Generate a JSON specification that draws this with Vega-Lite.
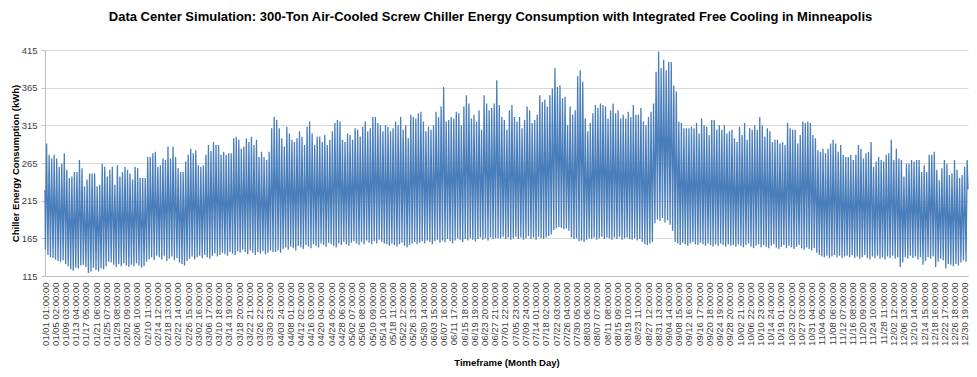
{
  "$schema": "https://vega.github.io/schema/vega-lite/v6.json",
  "width": 923,
  "height": 226,
  "autosize": {"type": "none"},
  "padding": {"left": 45, "top": 50, "right": 9, "bottom": 101},
  "background": "white",
  "title": {
    "text": "Data Center Simulation: 300-Ton Air-Cooled Screw Chiller Energy Consumption with Integrated Free Cooling in Minneapolis",
    "font": "Liberation Sans",
    "fontSize": 13,
    "fontWeight": "bold",
    "color": "#000000",
    "anchor": "middle",
    "frame": "group",
    "offset": 21,
    "dx": -16
  },
  "data": {
    "values": [
      {"h":0,"v":229},
      {"h":4,"v":150},{"h":15,"v":291},{"h":28,"v":143},{"h":39,"v":276},{"h":52,"v":140},{"h":63,"v":271},{"h":76,"v":139},{"h":87,"v":276},{"h":100,"v":137},{"h":111,"v":271},{"h":124,"v":135},{"h":135,"v":260},{"h":148,"v":134},{"h":159,"v":264},{"h":172,"v":136},{"h":183,"v":278},{"h":196,"v":131},{"h":207,"v":256},{"h":220,"v":128},{"h":231,"v":245},
      {"h":244,"v":124},{"h":255,"v":247},{"h":268,"v":122},{"h":279,"v":253},{"h":292,"v":126},{"h":303,"v":253},{"h":316,"v":125},{"h":327,"v":269},{"h":340,"v":129},{"h":351,"v":258},{"h":364,"v":130},{"h":375,"v":234},{"h":388,"v":127},{"h":399,"v":243},{"h":412,"v":119},{"h":423,"v":251},{"h":436,"v":121},{"h":447,"v":251},{"h":460,"v":126},{"h":471,"v":251},
      {"h":484,"v":123},{"h":495,"v":234},{"h":508,"v":121},{"h":519,"v":236},{"h":532,"v":125},{"h":543,"v":264},{"h":556,"v":124},{"h":567,"v":260},{"h":580,"v":128},{"h":591,"v":247},{"h":604,"v":134},{"h":615,"v":256},{"h":628,"v":133},{"h":639,"v":260},{"h":652,"v":130},{"h":663,"v":236},{"h":676,"v":127},{"h":687,"v":262},{"h":700,"v":131},{"h":711,"v":247},
      {"h":724,"v":128},{"h":735,"v":253},{"h":748,"v":132},{"h":759,"v":260},{"h":772,"v":129},{"h":783,"v":256},{"h":796,"v":127},{"h":807,"v":251},{"h":820,"v":130},{"h":831,"v":243},{"h":844,"v":128},{"h":855,"v":260},{"h":868,"v":132},{"h":879,"v":258},{"h":892,"v":129},{"h":903,"v":245},{"h":916,"v":126},{"h":927,"v":245},{"h":940,"v":128},{"h":951,"v":245},
      {"h":964,"v":134},{"h":975,"v":273},{"h":988,"v":137},{"h":999,"v":273},{"h":1012,"v":140},{"h":1023,"v":278},{"h":1036,"v":136},{"h":1047,"v":280},{"h":1060,"v":142},{"h":1071,"v":260},{"h":1084,"v":140},{"h":1095,"v":262},{"h":1108,"v":137},{"h":1119,"v":271},{"h":1132,"v":142},{"h":1143,"v":269},{"h":1156,"v":135},{"h":1167,"v":287},{"h":1180,"v":138},{"h":1191,"v":271},
      {"h":1204,"v":141},{"h":1215,"v":287},{"h":1228,"v":136},{"h":1239,"v":273},{"h":1252,"v":139},{"h":1263,"v":258},{"h":1276,"v":133},{"h":1287,"v":253},{"h":1300,"v":131},{"h":1311,"v":253},{"h":1324,"v":129},{"h":1335,"v":267},{"h":1348,"v":135},{"h":1359,"v":276},{"h":1372,"v":138},{"h":1383,"v":284},{"h":1396,"v":141},{"h":1407,"v":278},{"h":1420,"v":137},{"h":1431,"v":282},
      {"h":1444,"v":140},{"h":1455,"v":262},{"h":1468,"v":142},{"h":1479,"v":260},{"h":1492,"v":139},{"h":1503,"v":262},{"h":1516,"v":143},{"h":1527,"v":276},{"h":1540,"v":140},{"h":1551,"v":289},{"h":1564,"v":138},{"h":1575,"v":281},{"h":1588,"v":142},{"h":1599,"v":293},{"h":1612,"v":145},{"h":1623,"v":289},{"h":1636,"v":141},{"h":1647,"v":289},{"h":1660,"v":143},{"h":1671,"v":276},
      {"h":1684,"v":146},{"h":1695,"v":280},{"h":1708,"v":144},{"h":1719,"v":276},{"h":1732,"v":142},{"h":1743,"v":278},{"h":1756,"v":147},{"h":1767,"v":278},{"h":1780,"v":145},{"h":1791,"v":298},{"h":1804,"v":143},{"h":1815,"v":300},{"h":1828,"v":148},{"h":1839,"v":296},{"h":1852,"v":146},{"h":1863,"v":284},{"h":1876,"v":150},{"h":1887,"v":287},{"h":1900,"v":147},{"h":1911,"v":298},
      {"h":1924,"v":144},{"h":1935,"v":293},{"h":1948,"v":149},{"h":1959,"v":300},{"h":1972,"v":146},{"h":1983,"v":289},{"h":1996,"v":143},{"h":2007,"v":296},{"h":2020,"v":147},{"h":2031,"v":273},{"h":2044,"v":145},{"h":2055,"v":280},{"h":2068,"v":148},{"h":2079,"v":273},{"h":2092,"v":144},{"h":2103,"v":269},{"h":2116,"v":146},{"h":2127,"v":280},{"h":2140,"v":149},{"h":2151,"v":311},
      {"h":2164,"v":147},{"h":2175,"v":326},{"h":2188,"v":147},{"h":2199,"v":322},{"h":2212,"v":149},{"h":2223,"v":311},{"h":2236,"v":146},{"h":2247,"v":298},{"h":2260,"v":151},{"h":2271,"v":287},{"h":2284,"v":153},{"h":2295,"v":313},{"h":2308,"v":150},{"h":2319,"v":304},{"h":2332,"v":154},{"h":2343,"v":296},{"h":2356,"v":152},{"h":2367,"v":293},{"h":2380,"v":149},{"h":2391,"v":298},
      {"h":2404,"v":155},{"h":2415,"v":307},{"h":2428,"v":153},{"h":2439,"v":300},{"h":2452,"v":151},{"h":2463,"v":289},{"h":2476,"v":156},{"h":2487,"v":313},{"h":2500,"v":154},{"h":2511,"v":320},{"h":2524,"v":152},{"h":2535,"v":304},{"h":2548,"v":157},{"h":2559,"v":289},{"h":2572,"v":155},{"h":2583,"v":300},{"h":2596,"v":153},{"h":2607,"v":300},{"h":2620,"v":158},{"h":2631,"v":293},
      {"h":2644,"v":156},{"h":2655,"v":302},{"h":2668,"v":154},{"h":2679,"v":289},{"h":2692,"v":159},{"h":2703,"v":296},{"h":2716,"v":157},{"h":2727,"v":307},{"h":2740,"v":155},{"h":2751,"v":318},{"h":2764,"v":153},{"h":2775,"v":322},{"h":2788,"v":158},{"h":2799,"v":320},{"h":2812,"v":156},{"h":2823,"v":296},{"h":2836,"v":160},{"h":2847,"v":293},{"h":2860,"v":157},{"h":2871,"v":304},
      {"h":2884,"v":155},{"h":2895,"v":302},{"h":2908,"v":159},{"h":2919,"v":296},{"h":2932,"v":161},{"h":2943,"v":311},{"h":2956,"v":158},{"h":2967,"v":309},{"h":2980,"v":156},{"h":2991,"v":300},{"h":3004,"v":160},{"h":3015,"v":313},{"h":3028,"v":157},{"h":3039,"v":320},{"h":3052,"v":162},{"h":3063,"v":307},{"h":3076,"v":159},{"h":3087,"v":311},{"h":3100,"v":157},{"h":3111,"v":326},
      {"h":3124,"v":161},{"h":3135,"v":326},{"h":3148,"v":158},{"h":3159,"v":318},{"h":3172,"v":163},{"h":3183,"v":315},{"h":3196,"v":160},{"h":3207,"v":307},{"h":3220,"v":158},{"h":3231,"v":315},{"h":3244,"v":157},{"h":3255,"v":313},{"h":3268,"v":155},{"h":3279,"v":307},{"h":3292,"v":158},{"h":3303,"v":311},{"h":3316,"v":156},{"h":3327,"v":320},{"h":3340,"v":154},{"h":3351,"v":315},
      {"h":3364,"v":157},{"h":3375,"v":326},{"h":3388,"v":159},{"h":3399,"v":309},{"h":3412,"v":155},{"h":3423,"v":315},{"h":3436,"v":153},{"h":3447,"v":298},{"h":3460,"v":156},{"h":3471,"v":329},{"h":3484,"v":158},{"h":3495,"v":326},{"h":3508,"v":160},{"h":3519,"v":324},{"h":3532,"v":157},{"h":3543,"v":331},{"h":3556,"v":159},{"h":3567,"v":333},{"h":3580,"v":161},{"h":3591,"v":320},
      {"h":3604,"v":158},{"h":3615,"v":307},{"h":3628,"v":162},{"h":3639,"v":313},{"h":3652,"v":160},{"h":3663,"v":309},{"h":3676,"v":157},{"h":3687,"v":315},{"h":3700,"v":161},{"h":3711,"v":333},{"h":3724,"v":163},{"h":3735,"v":326},{"h":3748,"v":159},{"h":3759,"v":340},{"h":3772,"v":162},{"h":3783,"v":366},{"h":3796,"v":160},{"h":3807,"v":320},{"h":3820,"v":164},{"h":3831,"v":322},
      {"h":3844,"v":161},{"h":3855,"v":326},{"h":3868,"v":158},{"h":3879,"v":324},{"h":3892,"v":162},{"h":3903,"v":333},{"h":3916,"v":165},{"h":3927,"v":331},{"h":3940,"v":163},{"h":3951,"v":315},{"h":3964,"v":160},{"h":3975,"v":340},{"h":3988,"v":164},{"h":3999,"v":355},{"h":4012,"v":162},{"h":4023,"v":344},{"h":4036,"v":165},{"h":4047,"v":324},{"h":4060,"v":163},{"h":4071,"v":329},
      {"h":4084,"v":161},{"h":4095,"v":320},{"h":4108,"v":164},{"h":4119,"v":335},{"h":4132,"v":166},{"h":4143,"v":309},{"h":4156,"v":163},{"h":4167,"v":355},{"h":4180,"v":165},{"h":4191,"v":344},{"h":4204,"v":162},{"h":4215,"v":335},{"h":4228,"v":166},{"h":4239,"v":338},{"h":4252,"v":164},{"h":4263,"v":344},{"h":4276,"v":165},{"h":4287,"v":375},{"h":4300,"v":165},{"h":4311,"v":342},
      {"h":4324,"v":165},{"h":4335,"v":326},{"h":4348,"v":167},{"h":4359,"v":322},{"h":4372,"v":164},{"h":4383,"v":309},{"h":4396,"v":166},{"h":4407,"v":335},{"h":4420,"v":163},{"h":4431,"v":342},{"h":4444,"v":165},{"h":4455,"v":326},{"h":4468,"v":167},{"h":4479,"v":320},{"h":4492,"v":164},{"h":4503,"v":326},{"h":4516,"v":166},{"h":4527,"v":311},{"h":4540,"v":163},{"h":4551,"v":322},
      {"h":4564,"v":165},{"h":4575,"v":340},{"h":4588,"v":168},{"h":4599,"v":335},{"h":4612,"v":164},{"h":4623,"v":318},{"h":4636,"v":166},{"h":4647,"v":322},{"h":4660,"v":163},{"h":4671,"v":329},{"h":4684,"v":167},{"h":4695,"v":355},{"h":4708,"v":165},{"h":4719,"v":346},{"h":4732,"v":164},{"h":4743,"v":349},{"h":4756,"v":166},{"h":4767,"v":340},{"h":4780,"v":168},{"h":4791,"v":355},
      {"h":4804,"v":170},{"h":4815,"v":364},{"h":4828,"v":176},{"h":4839,"v":391},{"h":4852,"v":178},{"h":4863,"v":366},{"h":4876,"v":180},{"h":4887,"v":368},{"h":4900,"v":179},{"h":4911,"v":351},{"h":4924,"v":177},{"h":4935,"v":353},{"h":4948,"v":178},{"h":4959,"v":315},{"h":4972,"v":175},{"h":4983,"v":340},{"h":4996,"v":166},{"h":5007,"v":329},{"h":5020,"v":164},{"h":5031,"v":335},
      {"h":5044,"v":165},{"h":5055,"v":380},{"h":5068,"v":161},{"h":5079,"v":388},{"h":5092,"v":162},{"h":5103,"v":373},{"h":5116,"v":160},{"h":5127,"v":324},{"h":5140,"v":163},{"h":5151,"v":307},{"h":5164,"v":165},{"h":5175,"v":318},{"h":5188,"v":164},{"h":5199,"v":331},{"h":5212,"v":166},{"h":5223,"v":342},{"h":5236,"v":163},{"h":5247,"v":338},{"h":5260,"v":165},{"h":5271,"v":344},
      {"h":5284,"v":167},{"h":5295,"v":342},{"h":5308,"v":164},{"h":5319,"v":340},{"h":5332,"v":166},{"h":5343,"v":324},{"h":5356,"v":165},{"h":5367,"v":335},{"h":5380,"v":163},{"h":5391,"v":344},{"h":5404,"v":166},{"h":5415,"v":331},{"h":5428,"v":164},{"h":5439,"v":335},{"h":5452,"v":167},{"h":5463,"v":324},{"h":5476,"v":163},{"h":5487,"v":329},{"h":5500,"v":165},{"h":5511,"v":324},
      {"h":5524,"v":166},{"h":5535,"v":333},{"h":5548,"v":164},{"h":5559,"v":326},{"h":5572,"v":163},{"h":5583,"v":342},{"h":5596,"v":165},{"h":5607,"v":329},{"h":5620,"v":162},{"h":5631,"v":329},{"h":5644,"v":164},{"h":5655,"v":338},{"h":5668,"v":160},{"h":5679,"v":320},{"h":5692,"v":157},{"h":5703,"v":315},{"h":5716,"v":156},{"h":5727,"v":326},{"h":5740,"v":158},{"h":5751,"v":333},
      {"h":5764,"v":160},{"h":5775,"v":344},{"h":5788,"v":185},{"h":5799,"v":386},{"h":5812,"v":190},{"h":5823,"v":413},{"h":5836,"v":188},{"h":5847,"v":391},{"h":5860,"v":192},{"h":5871,"v":402},{"h":5884,"v":186},{"h":5895,"v":388},{"h":5908,"v":189},{"h":5919,"v":399},{"h":5932,"v":183},{"h":5943,"v":399},{"h":5956,"v":175},{"h":5967,"v":368},{"h":5980,"v":160},{"h":5991,"v":360},
      {"h":6004,"v":158},{"h":6015,"v":320},{"h":6028,"v":156},{"h":6039,"v":318},{"h":6052,"v":159},{"h":6063,"v":311},{"h":6076,"v":157},{"h":6087,"v":311},{"h":6100,"v":155},{"h":6111,"v":311},{"h":6124,"v":158},{"h":6135,"v":313},{"h":6148,"v":160},{"h":6159,"v":311},{"h":6172,"v":157},{"h":6183,"v":318},{"h":6196,"v":156},{"h":6207,"v":304},{"h":6220,"v":159},{"h":6231,"v":324},
      {"h":6244,"v":157},{"h":6255,"v":315},{"h":6268,"v":155},{"h":6279,"v":313},{"h":6292,"v":158},{"h":6303,"v":302},{"h":6316,"v":156},{"h":6327,"v":322},{"h":6340,"v":154},{"h":6351,"v":322},{"h":6364,"v":157},{"h":6375,"v":309},{"h":6388,"v":155},{"h":6399,"v":315},{"h":6412,"v":158},{"h":6423,"v":309},{"h":6436,"v":156},{"h":6447,"v":315},{"h":6460,"v":154},{"h":6471,"v":304},
      {"h":6484,"v":157},{"h":6495,"v":307},{"h":6508,"v":155},{"h":6519,"v":309},{"h":6532,"v":156},{"h":6543,"v":298},{"h":6556,"v":154},{"h":6567,"v":293},{"h":6580,"v":157},{"h":6591,"v":313},{"h":6604,"v":155},{"h":6615,"v":302},{"h":6628,"v":153},{"h":6639,"v":318},{"h":6652,"v":156},{"h":6663,"v":296},{"h":6676,"v":158},{"h":6687,"v":311},{"h":6700,"v":154},{"h":6711,"v":309},
      {"h":6724,"v":152},{"h":6735,"v":315},{"h":6748,"v":155},{"h":6759,"v":309},{"h":6772,"v":157},{"h":6783,"v":326},{"h":6796,"v":153},{"h":6807,"v":315},{"h":6820,"v":156},{"h":6831,"v":300},{"h":6844,"v":154},{"h":6855,"v":311},{"h":6868,"v":152},{"h":6879,"v":307},{"h":6892,"v":155},{"h":6903,"v":293},{"h":6916,"v":157},{"h":6927,"v":296},{"h":6940,"v":153},{"h":6951,"v":296},
      {"h":6964,"v":151},{"h":6975,"v":291},{"h":6988,"v":154},{"h":6999,"v":293},{"h":7012,"v":156},{"h":7023,"v":289},{"h":7036,"v":152},{"h":7047,"v":318},{"h":7060,"v":155},{"h":7071,"v":311},{"h":7084,"v":153},{"h":7095,"v":309},{"h":7108,"v":151},{"h":7119,"v":309},{"h":7132,"v":154},{"h":7143,"v":291},{"h":7156,"v":156},{"h":7167,"v":302},{"h":7180,"v":152},{"h":7191,"v":320},
      {"h":7204,"v":150},{"h":7215,"v":318},{"h":7228,"v":153},{"h":7239,"v":320},{"h":7252,"v":151},{"h":7263,"v":318},{"h":7276,"v":149},{"h":7287,"v":302},{"h":7300,"v":152},{"h":7311,"v":298},{"h":7324,"v":146},{"h":7335,"v":282},{"h":7348,"v":143},{"h":7359,"v":280},{"h":7372,"v":141},{"h":7383,"v":284},{"h":7396,"v":140},{"h":7407,"v":278},{"h":7420,"v":142},{"h":7431,"v":284},
      {"h":7444,"v":139},{"h":7455,"v":291},{"h":7468,"v":141},{"h":7479,"v":296},{"h":7492,"v":143},{"h":7503,"v":291},{"h":7516,"v":140},{"h":7527,"v":280},{"h":7540,"v":142},{"h":7551,"v":289},{"h":7564,"v":139},{"h":7575,"v":276},{"h":7588,"v":141},{"h":7599,"v":273},{"h":7612,"v":142},{"h":7623,"v":273},{"h":7636,"v":140},{"h":7647,"v":276},{"h":7660,"v":143},{"h":7671,"v":269},
      {"h":7684,"v":139},{"h":7695,"v":276},{"h":7708,"v":141},{"h":7719,"v":289},{"h":7732,"v":138},{"h":7743,"v":284},{"h":7756,"v":140},{"h":7767,"v":271},{"h":7780,"v":143},{"h":7791,"v":278},{"h":7804,"v":139},{"h":7815,"v":280},{"h":7828,"v":137},{"h":7839,"v":293},{"h":7852,"v":141},{"h":7863,"v":260},{"h":7876,"v":139},{"h":7887,"v":267},{"h":7900,"v":142},{"h":7911,"v":273},
      {"h":7924,"v":138},{"h":7935,"v":269},{"h":7948,"v":140},{"h":7959,"v":267},{"h":7972,"v":137},{"h":7983,"v":276},{"h":7996,"v":141},{"h":8007,"v":278},{"h":8020,"v":139},{"h":8031,"v":296},{"h":8044,"v":142},{"h":8055,"v":269},{"h":8068,"v":138},{"h":8079,"v":284},{"h":8092,"v":140},{"h":8103,"v":271},{"h":8116,"v":127},{"h":8127,"v":269},{"h":8140,"v":133},{"h":8151,"v":247},
      {"h":8164,"v":140},{"h":8175,"v":264},{"h":8188,"v":138},{"h":8199,"v":264},{"h":8212,"v":142},{"h":8223,"v":269},{"h":8236,"v":139},{"h":8247,"v":267},{"h":8260,"v":141},{"h":8271,"v":269},{"h":8284,"v":137},{"h":8295,"v":269},{"h":8308,"v":140},{"h":8319,"v":253},{"h":8332,"v":130},{"h":8343,"v":262},{"h":8356,"v":135},{"h":8367,"v":253},{"h":8380,"v":140},{"h":8391,"v":276},
      {"h":8404,"v":138},{"h":8415,"v":276},{"h":8428,"v":141},{"h":8439,"v":280},{"h":8452,"v":127},{"h":8463,"v":256},{"h":8476,"v":134},{"h":8487,"v":242},{"h":8500,"v":138},{"h":8511,"v":258},{"h":8524,"v":136},{"h":8535,"v":269},{"h":8548,"v":125},{"h":8559,"v":264},{"h":8572,"v":131},{"h":8583,"v":249},{"h":8596,"v":130},{"h":8607,"v":251},{"h":8620,"v":128},{"h":8631,"v":269},
      {"h":8644,"v":131},{"h":8655,"v":256},{"h":8668,"v":129},{"h":8679,"v":245},{"h":8692,"v":133},{"h":8703,"v":249},{"h":8716,"v":136},{"h":8727,"v":260},{"h":8740,"v":134},{"h":8751,"v":269},
      {"h":8759,"v":230}
    ]
  },
  "mark": {"type": "line", "color": "#4a7ebb", "strokeWidth": 1.3},
  "encoding": {
    "x": {
      "field": "h",
      "type": "quantitative",
      "scale": {"domain": [0, 8759], "nice": false, "zero": false},
      "axis": {
        "values": [0,97,194,291,388,485,582,679,776,873,970,1067,1164,1261,1358,1455,1552,1649,1746,1843,1940,2037,2134,2231,2328,2425,2522,2619,2716,2813,2910,3007,3104,3201,3298,3395,3492,3589,3686,3783,3880,3977,4074,4171,4268,4365,4462,4559,4656,4753,4850,4947,5044,5141,5238,5335,5432,5529,5626,5723,5820,5917,6014,6111,6208,6305,6402,6499,6596,6693,6790,6887,6984,7081,7178,7275,7372,7469,7566,7663,7760,7857,7954,8051,8148,8245,8342,8439,8536,8633,8730],
        "labelExpr": "timeFormat(datetime(2021, 0, 1 + floor(datum.value / 24)), '%m/%d') + '  ' + pad(toString(datum.value % 24 + 1), 2, '0', 'left') + ':00:00'",
        "labelAngle": -90,
        "labelFont": "Liberation Sans",
        "labelFontSize": 9.5,
        "labelColor": "#404040",
        "labelOverlap": false,
        "labelFlush": false,
        "labelBound": false,
        "labelPadding": 6,
        "ticks": false,
        "grid": false,
        "domainColor": "#bfbfbf",
        "title": "Timeframe (Month Day)",
        "titleFont": "Liberation Sans",
        "titleFontSize": 9.5,
        "titleFontWeight": "bold",
        "titleColor": "#000000",
        "titlePadding": 9
      }
    },
    "y": {
      "field": "v",
      "type": "quantitative",
      "scale": {"domain": [115, 415], "nice": false, "zero": false},
      "axis": {
        "values": [115, 165, 215, 265, 315, 365, 415],
        "labelFont": "Liberation Sans",
        "labelFontSize": 9.5,
        "labelColor": "#404040",
        "labelPadding": 4,
        "tickSize": 4,
        "tickColor": "#bfbfbf",
        "domainColor": "#bfbfbf",
        "gridColor": "#d9d9d9",
        "title": "Chiller Energy Consumption (kWh)",
        "titleFont": "Liberation Sans",
        "titleFontSize": 9.5,
        "titleFontWeight": "bold",
        "titleColor": "#000000",
        "titlePadding": 1
      }
    }
  },
  "config": {"view": {"stroke": null}}
}
